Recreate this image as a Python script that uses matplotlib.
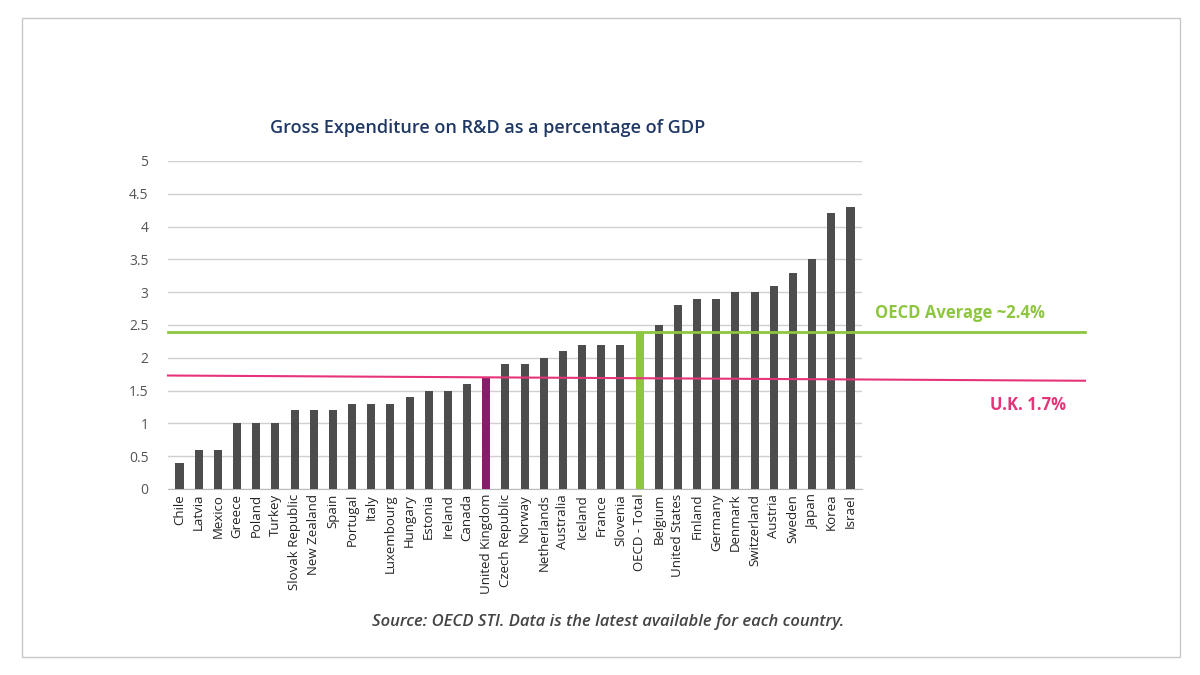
import matplotlib
matplotlib.use("Agg")
import matplotlib.pyplot as plt
from matplotlib.patches import Rectangle

plt.rcParams['font.family'] = ['Open Sans', 'DejaVu Sans']

countries = ["Chile", "Latvia", "Mexico", "Greece", "Poland", "Turkey", "Slovak Republic",
             "New Zealand", "Spain", "Portugal", "Italy", "Luxembourg", "Hungary", "Estonia",
             "Ireland", "Canada", "United Kingdom", "Czech Republic", "Norway", "Netherlands",
             "Australia", "Iceland", "France", "Slovenia", "OECD - Total", "Belgium",
             "United States", "Finland", "Germany", "Denmark", "Switzerland", "Austria",
             "Sweden", "Japan", "Korea", "Israel"]
values = [0.4, 0.6, 0.6, 1.0, 1.0, 1.0, 1.2, 1.2, 1.2, 1.3, 1.3, 1.3, 1.4, 1.5, 1.5, 1.6,
          1.7, 1.9, 1.9, 2.0, 2.1, 2.2, 2.2, 2.2, 2.4, 2.5, 2.8, 2.9, 2.9, 3.0, 3.0, 3.1,
          3.3, 3.5, 4.2, 4.3]
oecd_avg = 2.4
uk_line = [1.73, 1.65]

colors = []
for c in countries:
    if c == "United Kingdom":
        colors.append("#8b1a6b")
    elif c == "OECD - Total":
        colors.append("#8dc63f")
    else:
        colors.append("#4d4d4d")

fig = plt.figure(figsize=(12, 6.75), dpi=100)
fig.patches.append(Rectangle((22/1200, 18/675), 1158/1200, 639/675, transform=fig.transFigure,
                             fill=False, edgecolor="#c8c8c8", linewidth=1))
ax = fig.add_axes([168/1200, 1 - 489/675, 694/1200, 328/675])
x = range(len(countries))
ax.bar(x, values, width=0.42, color=colors, zorder=3)
ax.set_xlim(-0.6, len(countries) - 0.4)
ax.set_ylim(0, 5)
ax.set_yticks([0, 0.5, 1, 1.5, 2, 2.5, 3, 3.5, 4, 4.5, 5])
ax.set_yticklabels(["0", "0.5", "1", "1.5", "2", "2.5", "3", "3.5", "4", "4.5", "5"])
ax.grid(axis="y", color="#d0d0d0", linewidth=1, zorder=0)
ax.set_xticks(list(x))
ax.set_xticklabels(countries, rotation=90, fontsize=9.5, color="#222222")
ax.tick_params(axis="y", labelsize=10, colors="#555555", length=0, pad=14)
ax.tick_params(axis="x", length=0)
for s in ["top", "right", "left"]:
    ax.spines[s].set_visible(False)
ax.spines["bottom"].set_color("#bbbbbb")

ext = (1085 - 168) / 694
ax.plot([0, ext], [oecd_avg, oecd_avg], transform=ax.get_yaxis_transform(), color="#8dc63f",
        linewidth=2, clip_on=False, zorder=4)
ax.plot([0, ext], uk_line, transform=ax.get_yaxis_transform(), color="#e6337a",
        linewidth=1.5, clip_on=False, zorder=4)
fig.text(960/1200, 1 - 313/675, "OECD Average ~2.4%", color="#8dc63f", fontsize=12,
         fontweight="bold", ha="center", va="center")
fig.text(1028/1200, 1 - 405/675, "U.K. 1.7%", color="#e6337a", fontsize=12,
         fontweight="bold", ha="center", va="center")
fig.text(488/1200, 1 - 128/675, "Gross Expenditure on R&D as a percentage of GDP",
         color="#1f3864", fontsize=13, fontweight="semibold", ha="center", va="center")
fig.text(608/1200, 1 - 622/675, "Source: OECD STI. Data is the latest available for each country.",
         color="#444444", fontsize=12, style="italic", fontweight="semibold",
         ha="center", va="center")
fig.savefig("out.png", dpi=100)
